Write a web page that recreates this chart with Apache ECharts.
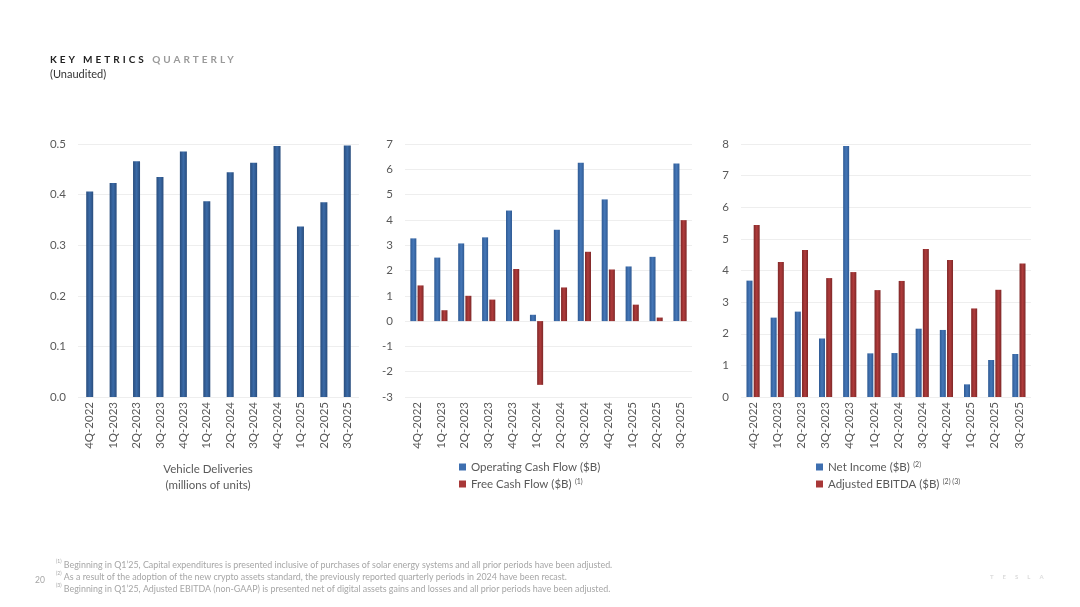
<!DOCTYPE html>
<html>
<head>
<meta charset="utf-8">
<script src="https://cdn.jsdelivr.net/npm/echarts@6/dist/echarts.min.js"></script>
<style>
html,body{margin:0;padding:0;background:#fff;}
#c{position:absolute;left:0;top:0;width:1080px;height:607px;}
.t{position:absolute;font-family:Lato,'Open Sans',sans-serif;}
</style>
</head>
<body>
<div id="c"></div>
<div class="t" style="left:50px;top:53px;font-size:10px;font-weight:bold;letter-spacing:3px;color:#222;">KEY METRICS <span style="color:#9a9a9a">QUARTERLY</span></div>
<div class="t" style="left:50px;top:67px;font-size:11px;color:#333;">(Unaudited)</div>
<div class="t" style="left:990px;top:573px;font-size:6px;letter-spacing:9px;color:#dcdcdc;font-weight:bold;">TESLA</div>
<script>
var quarters = ['4Q-2022','1Q-2023','2Q-2023','3Q-2023','4Q-2023','1Q-2024','2Q-2024','3Q-2024','4Q-2024','1Q-2025','2Q-2025','3Q-2025'];
var deliveries = [0.406,0.423,0.466,0.435,0.485,0.387,0.444,0.463,0.496,0.337,0.385,0.497];
var operatingCF = [3.27,2.51,3.07,3.31,4.37,0.25,3.61,6.26,4.81,2.16,2.54,6.23];
var freeCF = [1.41,0.43,1.00,0.85,2.06,-2.52,1.33,2.74,2.04,0.65,0.14,3.99];
var netIncome = [3.68,2.51,2.70,1.85,7.94,1.38,1.39,2.16,2.12,0.40,1.17,1.36];
var adjEBITDA = [5.44,4.27,4.65,3.76,3.95,3.38,3.67,4.68,4.33,2.80,3.39,4.22];

var FONT = 'Lato, "Open Sans", sans-serif';
var chart = echarts.init(document.getElementById('c'));
function grad(edge, mid){
  return new echarts.graphic.LinearGradient(0,0,1,0,[{offset:0,color:edge},{offset:0.5,color:mid},{offset:1,color:edge}]);
}
var BLUE_D = grad('#294d7d','#3b6ba8');
var BLUE = grad('#2f5a93','#4577b8');
var RED = grad('#7e2828','#b03b3b');
var grids = [
  {left:78, right:721, top:144, bottom:210},
  {left:405, right:388, top:144, bottom:210},
  {left:741, right:49, top:144, bottom:210}
];
function xAx(i){
  return {type:'category', gridIndex:i, data:quarters,
    axisLine:{show:false}, axisTick:{show:false},
    axisLabel:{rotate:90, color:'#595959', fontSize:11.5, fontFamily:FONT, margin:5, interval:0}};
}
function yAx(i,min,max,intv,fmt){
  return {type:'value', gridIndex:i, min:min, max:max, interval:intv,
    axisLine:{show:false}, axisTick:{show:false},
    axisLabel:{color:'#595959', fontSize:11.5, fontFamily:FONT, margin:12, formatter:fmt},
    splitLine:{lineStyle:{color:'#eeeeee', width:1}}};
}
var rich = {n:{fontSize:11.5, color:'#595959', fontFamily:FONT, lineHeight:12}, s:{fontSize:7, color:'#595959', fontFamily:FONT, verticalAlign:'top', lineHeight:12}};
var supers = {'Free Cash Flow ($B)':'(1)','Net Income ($B)':'(2)','Adjusted EBITDA ($B)':'(2) (3)'};
function legFmt(name){
  return supers[name] ? '{n|'+name+'} {s|'+supers[name]+'}' : '{n|'+name+'}';
}
var option = {
  animation:false,
  grid:grids,
  xAxis:[xAx(0),xAx(1),xAx(2)],
  yAxis:[
    yAx(0,0,0.5,0.1,function(v){return v.toFixed(1);}),
    yAx(1,-3,7,1),
    yAx(2,0,8,1)
  ],
  legend:[
    {orient:'vertical', left:459, top:461, padding:0, itemWidth:7, itemHeight:7, itemGap:5, icon:'rect',
      data:[{name:'Operating Cash Flow ($B)', itemStyle:{color:'#3e6fb0'}},{name:'Free Cash Flow ($B)', itemStyle:{color:'#a83838'}}],
      formatter:legFmt, textStyle:{rich:rich, color:'#595959'}},
    {orient:'vertical', left:816, top:461, padding:0, itemWidth:7, itemHeight:7, itemGap:5, icon:'rect',
      data:[{name:'Net Income ($B)', itemStyle:{color:'#3e6fb0'}},{name:'Adjusted EBITDA ($B)', itemStyle:{color:'#a83838'}}],
      formatter:legFmt, textStyle:{rich:rich, color:'#595959'}}
  ],
  series:[
    {name:'Vehicle Deliveries', type:'bar', xAxisIndex:0, yAxisIndex:0, data:deliveries, barWidth:7, itemStyle:{color:BLUE_D}},
    {name:'Operating Cash Flow ($B)', type:'bar', xAxisIndex:1, yAxisIndex:1, data:operatingCF, barWidth:6, barGap:'20%', itemStyle:{color:BLUE}},
    {name:'Free Cash Flow ($B)', type:'bar', xAxisIndex:1, yAxisIndex:1, data:freeCF, barWidth:6, barGap:'20%', itemStyle:{color:RED}},
    {name:'Net Income ($B)', type:'bar', xAxisIndex:2, yAxisIndex:2, data:netIncome, barWidth:6, barGap:'20%', itemStyle:{color:BLUE}},
    {name:'Adjusted EBITDA ($B)', type:'bar', xAxisIndex:2, yAxisIndex:2, data:adjEBITDA, barWidth:6, barGap:'20%', itemStyle:{color:RED}}
  ],
  graphic:[
    {type:'text', x:208, y:461, style:{text:'Vehicle Deliveries\n(millions of units)', textAlign:'center', fill:'#595959', fontSize:11.5, fontFamily:FONT, lineHeight:16}},
    {type:'text', x:35, y:576, style:{text:'20', fill:'#a6a6a6', fontSize:8.5, fontFamily:FONT}},
    {type:'text', x:56, y:559, style:{fill:'#a6a6a6', fontFamily:FONT, fontSize:8.9, lineHeight:12,
      text:'{s|(1)} Beginning in Q1\u201925, Capital expenditures is presented inclusive of purchases of solar energy systems and all prior periods have been adjusted.\n{s|(2)} As a result of the adoption of the new crypto assets standard, the previously reported quarterly periods in 2024 have been recast.\n{s|(3)} Beginning in Q1\u201925, Adjusted EBITDA (non-GAAP) is presented net of digital assets gains and losses and all prior periods have been adjusted.',
      rich:{s:{fontSize:5, fill:'#a6a6a6', fontFamily:FONT, verticalAlign:'top'}}}}
  ]
};
chart.setOption(option);
</script>
</body>
</html>
